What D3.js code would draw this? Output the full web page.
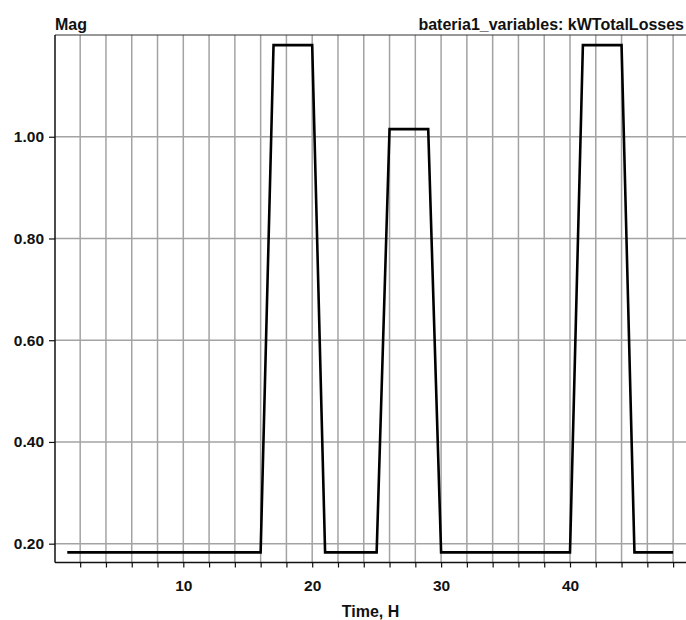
<!DOCTYPE html>
<html>
<head>
<meta charset="utf-8">
<script src="https://cdn.jsdelivr.net/npm/d3@7"></script>
<style>
  body { margin: 0; background: #fff; }
  text { font-family: "Liberation Sans", Arial, sans-serif; font-weight: bold; fill: #111; }
</style>
</head>
<body>
<script>
const width = 686,
      height = 620

// hourly values
const hours = [1, 2, 3, 4, 5, 6, 7, 8, 9, 10, 11, 12, 13, 14, 15, 16,
    17, 18, 19, 20, 21, 22, 23, 24, 25, 26, 27, 28, 29, 30, 31, 32,
    33, 34, 35, 36, 37, 38, 39, 40, 41, 42, 43, 44, 45, 46, 47, 48]
const losses = [0.183, 0.183, 0.183, 0.183, 0.183, 0.183, 0.183, 0.183, 0.183, 0.183, 0.183, 0.183, 0.183, 0.183, 0.183, 0.183,
    1.180, 1.180, 1.180, 1.180, 0.183, 0.183, 0.183, 0.183, 0.183, 1.015, 1.015, 1.015, 1.015, 0.183, 0.183, 0.183,
    0.183, 0.183, 0.183, 0.183, 0.183, 0.183, 0.183, 0.183, 1.180, 1.180, 1.180, 1.180, 0.183, 0.183, 0.183, 0.183]

const xTicks = [2, 4, 6, 8, 10, 12, 14, 16, 18, 20, 22, 24, 26, 28, 30, 32, 34, 36, 38, 40, 42, 44, 46, 48]
const xLabels = [10, 20, 30, 40]
const yTicks = [0.2, 0.4, 0.6, 0.8, 1.0]

const data = hours.map((h, i) => ({ h: h, v: losses[i] }))

const plotLeft = 55, plotTop = 35, plotBottom = 562.5

const x = d3.scaleLinear()
    .domain([0, 49])
    .range([54.4, 54.4 + 49 * 12.89])

const y = d3.scaleLinear()
    .domain([0.163, 1.2])
    .range([plotBottom, plotTop])

const svg = d3.select('body').append('svg')
    .attr('width', width)
    .attr('height', height)

svg.append('clipPath').attr('id', 'clip')
  .append('rect')
    .attr('x', plotLeft)
    .attr('y', plotTop)
    .attr('width', width - plotLeft)
    .attr('height', plotBottom - plotTop)

// grid
svg.append('g')
    .selectAll('line')
    .data(xTicks)
    .enter()
    .append('line')
        .attr('x1', d => x(d))
        .attr('x2', d => x(d))
        .attr('y1', plotTop)
        .attr('y2', plotBottom)
        .style('stroke', '#a3a3a3')
        .style('stroke-width', 1.5)

svg.append('g')
    .selectAll('line')
    .data(yTicks)
    .enter()
    .append('line')
        .attr('x1', plotLeft)
        .attr('x2', width)
        .attr('y1', d => y(d))
        .attr('y2', d => y(d))
        .style('stroke', '#a3a3a3')
        .style('stroke-width', 1.5)

// frame
svg.append('line')
    .attr('x1', plotLeft).attr('x2', width)
    .attr('y1', plotTop).attr('y2', plotTop)
    .style('stroke', '#333').style('stroke-width', 1.2)

// axes
const xAxis = svg.append('g')
    .attr('transform', `translate(0,${plotBottom})`)
    .call(d3.axisBottom(x).tickValues(xTicks).tickSize(5).tickSizeOuter(0)
        .tickFormat(d => xLabels.includes(d) ? d : ''))
xAxis.select('.domain').attr('d', `M${plotLeft},0H${width}`).style('stroke', '#111').style('stroke-width', 1.5)
xAxis.selectAll('.tick line').style('stroke', '#111').style('stroke-width', 1.2)
xAxis.selectAll('.tick text')
    .attr('y', 17)
    .style('font-size', '15.5px')
    .style('font-family', '"Liberation Sans", Arial, sans-serif')
    .style('fill', '#111')

const yAxis = svg.append('g')
    .attr('transform', `translate(${plotLeft},0)`)
    .call(d3.axisLeft(y).tickValues(yTicks).tickSize(6).tickSizeOuter(0)
        .tickFormat(d3.format('.2f')))
yAxis.select('.domain').attr('d', `M0,${plotTop}V${plotBottom}`).style('stroke', '#111').style('stroke-width', 1.5)
yAxis.selectAll('.tick line').style('stroke', '#111').style('stroke-width', 1.2)
yAxis.selectAll('.tick text')
    .attr('x', -11)
    .style('font-size', '15.5px')
    .style('font-family', '"Liberation Sans", Arial, sans-serif')
    .style('fill', '#111')

// the series
const line = d3.line()
    .x(d => x(d.h))
    .y(d => y(d.v))

svg.append('path')
    .datum(data)
    .attr('clip-path', 'url(#clip)')
    .attr('d', line)
    .style('fill', 'none')
    .style('stroke', '#000')
    .style('stroke-width', 2.6)

// labels
svg.append('text')
    .attr('x', plotLeft)
    .attr('y', 30)
    .style('font-size', '16px')
    .text('Mag')

svg.append('text')
    .attr('x', 684)
    .attr('y', 30)
    .attr('text-anchor', 'end')
    .style('font-size', '16px')
    .text('bateria1_variables: kWTotalLosses')

svg.append('text')
    .attr('x', (plotLeft + width) / 2)
    .attr('y', 617)
    .attr('text-anchor', 'middle')
    .style('font-size', '16px')
    .text('Time, H')
</script>
</body>
</html>
